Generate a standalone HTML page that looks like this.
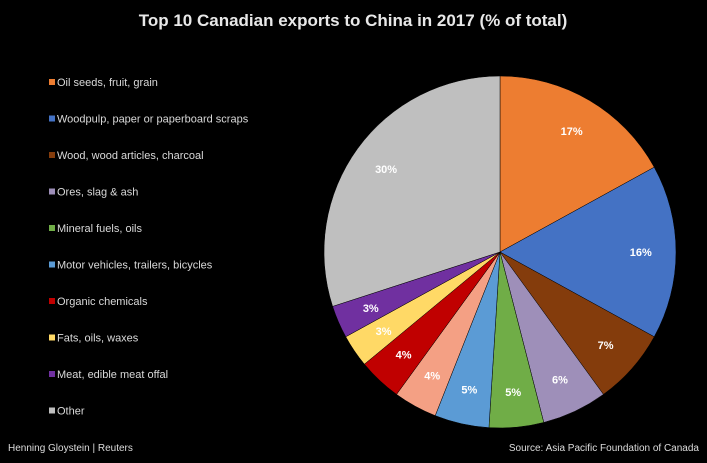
<!DOCTYPE html>
<html><head><meta charset="utf-8"><style>
body{margin:0;background:#000;width:707px;height:463px;overflow:hidden;font-family:"Liberation Sans",Arial,sans-serif}
svg{display:block}
</style></head><body>
<svg id="chart" width="707" height="463">
<text x="353" y="26" text-anchor="middle" fill="#e8e8e8" font-size="17" font-weight="bold">Top 10 Canadian exports to China in 2017 (% of total)</text>
<g id="slices"></g><g id="labels"></g><g id="legend"></g>
<text x="8" y="451" fill="#ddd" font-size="10">Henning Gloystein | Reuters</text>
<text x="699" y="451" text-anchor="end" fill="#ddd" font-size="10">Source: Asia Pacific Foundation of Canada</text>
</svg>
<script>
const categories=["Oil seeds, fruit, grain","Woodpulp, paper or paperboard scraps","Wood, wood articles, charcoal","Ores, slag & ash","Mineral fuels, oils","Motor vehicles, trailers, bicycles","Unlabeled","Organic chemicals","Fats, oils, waxes","Meat, edible meat offal","Other"];
const values=[17,16,7,6,5,5,4,4,3,3,30];
const colors=["#ed7d31","#4472c4","#843c0c","#9e8fb9","#70ad47","#5b9bd5","#f4a084","#c00000","#ffd966","#7030a0","#bfbfbf"];
const legendItems=[0,1,2,3,4,5,7,8,9,10];
const NS="http://www.w3.org/2000/svg";
const cx=500,cy=252,r=176;
const total=values.reduce((a,b)=>a+b,0);
const sg=document.getElementById('slices'),lg=document.getElementById('labels'),leg=document.getElementById('legend');
let a0=0;
function pt(a,rr){return [cx+rr*Math.sin(a),cy-rr*Math.cos(a)];}
values.forEach((v,i)=>{
  const a1=a0+v/total*2*Math.PI;
  const p0=pt(a0,r),p1=pt(a1,r);
  const path=document.createElementNS(NS,'path');
  path.setAttribute('d',`M${cx},${cy}L${p0[0]},${p0[1]}A${r},${r} 0 ${a1-a0>Math.PI?1:0} 1 ${p1[0]},${p1[1]}Z`);
  path.setAttribute('fill',colors[i]);
  path.setAttribute('stroke','#000');
  path.setAttribute('stroke-width','0.5');
  
  
  sg.appendChild(path);
  const m=(a0+a1)/2,lp=pt(m,r*0.8);
  const t=document.createElementNS(NS,'text');
  t.setAttribute('x',lp[0]);t.setAttribute('y',lp[1]+4);
  t.setAttribute('text-anchor','middle');t.setAttribute('fill','#fff');
  t.setAttribute('font-size','11');t.setAttribute('font-weight','bold');
  t.textContent=v+'%';
  
  
  lg.appendChild(t);
  a0=a1;
});
legendItems.forEach((idx,k)=>{
  const y=82+k*36.5;
  const g=document.createElementNS(NS,'g');
  
  
  const s=document.createElementNS(NS,'rect');
  s.setAttribute('x',49);s.setAttribute('y',y-3);s.setAttribute('width',6);s.setAttribute('height',6);
  s.setAttribute('fill',colors[idx]);
  const t=document.createElementNS(NS,'text');
  t.setAttribute('x',57);t.setAttribute('y',y+4);t.setAttribute('fill','#d9d9d9');t.setAttribute('font-size','11');
  t.textContent=categories[idx];
  g.appendChild(s);g.appendChild(t);leg.appendChild(g);
});
</script>
</body></html>
